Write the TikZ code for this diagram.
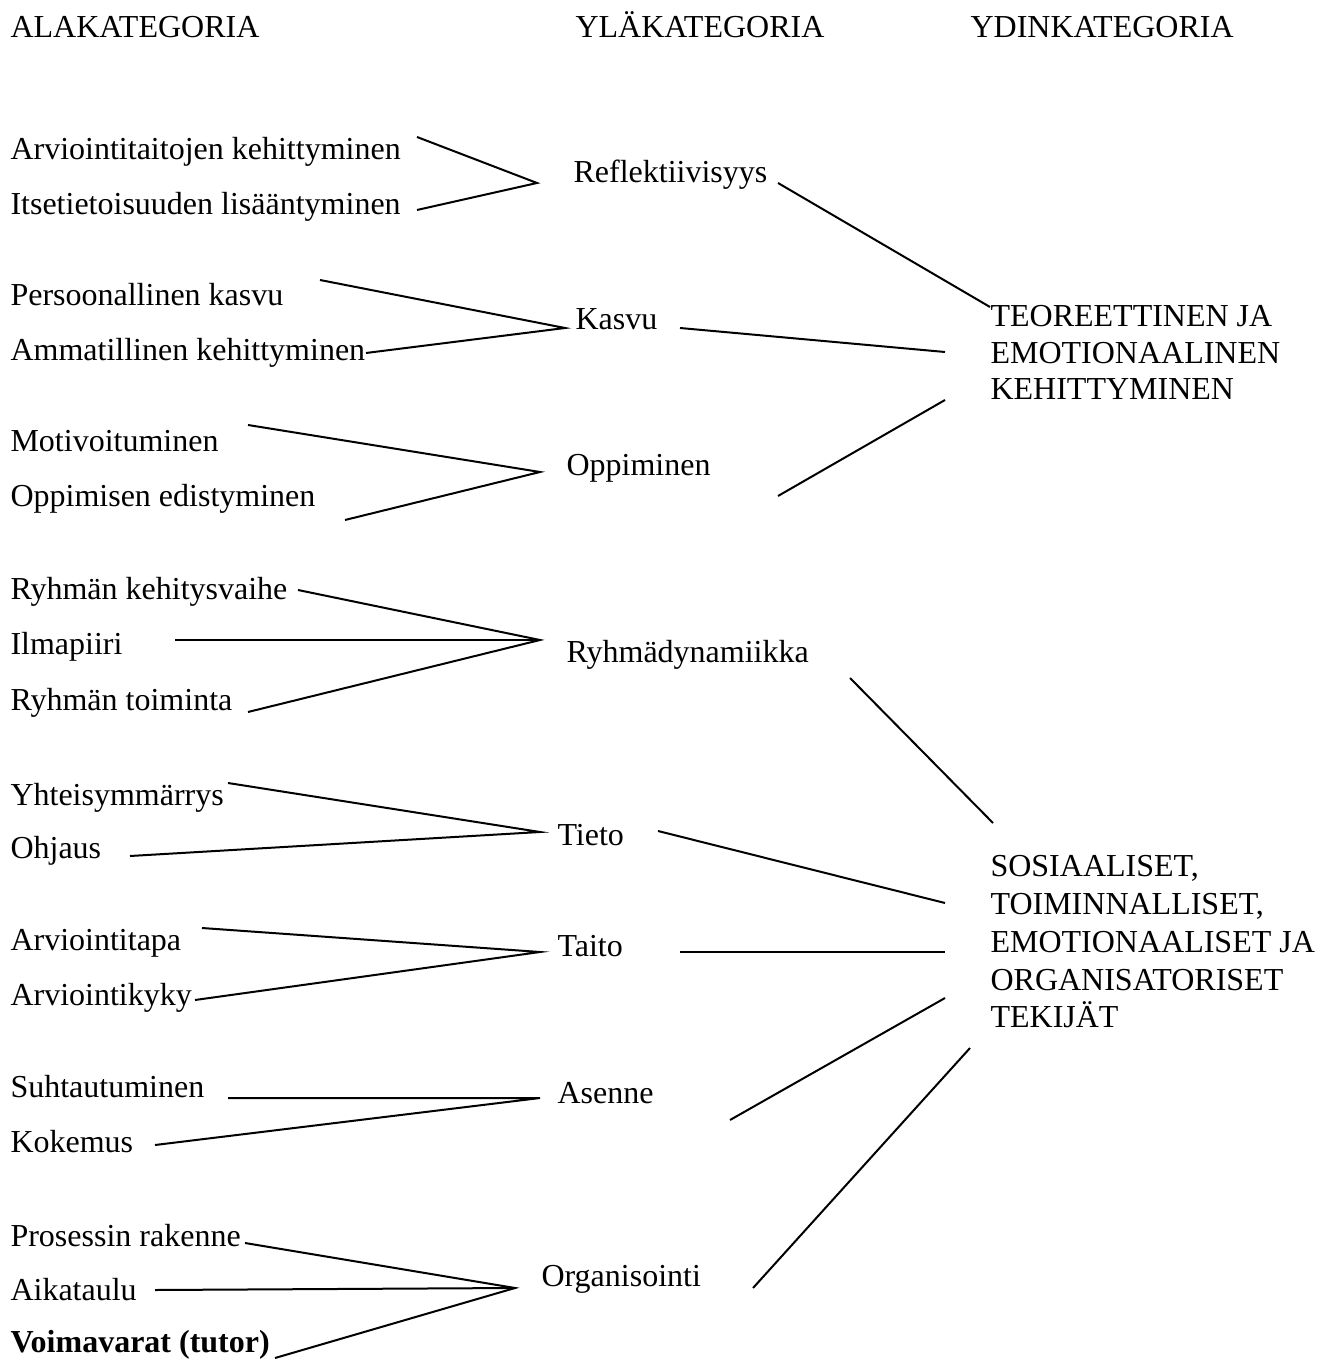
\documentclass[tikz,border=0pt]{standalone}
\usepackage{fontspec}
\setmainfont{Liberation Serif}
\begin{document}
\begin{tikzpicture}[x=0.375pt,y=-0.375pt,
  lbl/.style={anchor=base west,inner sep=0pt,font=\fontsize{12}{14.4}\selectfont},
  core/.style={lbl,align=left,font=\fontsize{12}{14}\selectfont},
  link/.style={draw=black,line width=0.75pt}]
\useasboundingbox (0,0) rectangle (1330,1360);

% column headings
\node[lbl] (hA) at (10,38)  {ALAKATEGORIA};
\node[lbl] (hY) at (575,38) {YLÄKATEGORIA};
\node[lbl] (hD) at (970,38) {YDINKATEGORIA};

% sub-categories
\node[lbl] (a1)  at (10,160)  {Arviointitaitojen kehittyminen};
\node[lbl] (a2)  at (10,215)  {Itsetietoisuuden lisääntyminen};
\node[lbl] (a3)  at (10,306)  {Persoonallinen kasvu};
\node[lbl] (a4)  at (10,361)  {Ammatillinen kehittyminen};
\node[lbl] (a5)  at (10,452)  {Motivoituminen};
\node[lbl] (a6)  at (10,507)  {Oppimisen edistyminen};
\node[lbl] (a7)  at (10,600)  {Ryhmän kehitysvaihe};
\node[lbl] (a8)  at (10,655)  {Ilmapiiri};
\node[lbl] (a9)  at (10,710)  {Ryhmän toiminta};
\node[lbl] (a10) at (10,805)  {Yhteisymmärrys};
\node[lbl] (a11) at (10,858)  {Ohjaus};
\node[lbl] (a12) at (10,950)  {Arviointitapa};
\node[lbl] (a13) at (10,1005) {Arviointikyky};
\node[lbl] (a14) at (10,1097) {Suhtautuminen};
\node[lbl] (a15) at (10,1152) {Kokemus};
\node[lbl] (a16) at (10,1246) {Prosessin rakenne};
\node[lbl] (a17) at (10,1300) {Aikataulu};
\node[lbl,font=\fontsize{12}{14.4}\selectfont\bfseries] (a18) at (10,1352) {Voimavarat (tutor)};

% upper categories
\node[lbl] (y1) at (573,183)  {Reflektiivisyys};
\node[lbl] (y2) at (575,330)  {Kasvu};
\node[lbl] (y3) at (566,476)  {Oppiminen};
\node[lbl] (y4) at (566,662)  {Ryhmädynamiikka};
\node[lbl] (y5) at (557,845)  {Tieto};
\node[lbl] (y6) at (557,956)  {Taito};
\node[lbl] (y7) at (557,1103) {Asenne};
\node[lbl] (y8) at (541,1286) {Organisointi};

% core categories
\node[lbl] (d1a) at (990,327) {TEOREETTINEN JA};
\node[lbl] (d1b) at (990,364) {EMOTIONAALINEN};
\node[lbl] (d1c) at (990,400) {KEHITTYMINEN};
\node[lbl] (d2a) at (990,876)  {SOSIAALISET,};
\node[lbl] (d2b) at (990,914)  {TOIMINNALLISET,};
\node[lbl] (d2c) at (990,952)  {EMOTIONAALISET JA};
\node[lbl] (d2d) at (990,990)  {ORGANISATORISET};
\node[lbl] (d2e) at (990,1027) {TEKIJÄT};

% line end points
\coordinate (a1e)  at (417,137);
\coordinate (a2e)  at (417,210);
\coordinate (y1w)  at (537,183);
\coordinate (a3e)  at (320,280);
\coordinate (a4e)  at (366,353);
\coordinate (y2w)  at (565,328);
\coordinate (a5e)  at (248,425);
\coordinate (a6e)  at (345,520);
\coordinate (y3w)  at (540,472);
\coordinate (a7e)  at (298,590);
\coordinate (a8e)  at (175,640);
\coordinate (a9e)  at (248,712);
\coordinate (y4w)  at (540,640);
\coordinate (a10e) at (228,783);
\coordinate (a11e) at (130,856);
\coordinate (y5w)  at (540,832);
\coordinate (a12e) at (202,928);
\coordinate (a13e) at (195,1000);
\coordinate (y6w)  at (540,952);
\coordinate (a14e) at (228,1098);
\coordinate (a15e) at (155,1145);
\coordinate (y7w)  at (540,1098);
\coordinate (a16e) at (245,1243);
\coordinate (a17e) at (155,1290);
\coordinate (a18e) at (275,1358);
\coordinate (y8w)  at (515,1288);

\coordinate (y1e) at (778,183);
\coordinate (y2e) at (680,328);
\coordinate (y3e) at (778,496);
\coordinate (d1n) at (990,307);
\coordinate (d1w) at (945,352);
\coordinate (d1s) at (945,400);

\coordinate (y4e) at (850,678);
\coordinate (y5e) at (658,831);
\coordinate (y6e) at (680,952);
\coordinate (y7e) at (730,1120);
\coordinate (y8e) at (753,1288);
\coordinate (d2n)  at (993,823);
\coordinate (d2nw) at (945,903);
\coordinate (d2w)  at (945,952);
\coordinate (d2sw) at (945,998);
\coordinate (d2s)  at (970,1048);

% sub-category to upper category
\draw[link] (a1e) -- (y1w) -- (a2e);
\draw[link] (a3e) -- (y2w) -- (a4e);
\draw[link] (a5e) -- (y3w) -- (a6e);
\draw[link] (a7e) -- (y4w) -- (a9e);
\draw[link] (a8e) -- (y4w);
\draw[link] (a10e) -- (y5w) -- (a11e);
\draw[link] (a12e) -- (y6w) -- (a13e);
\draw[link] (a14e) -- (y7w) -- (a15e);
\draw[link] (a16e) -- (y8w) -- (a18e);
\draw[link] (a17e) -- (y8w);

% upper category to core category
\draw[link] (y1e) -- (d1n);
\draw[link] (y2e) -- (d1w);
\draw[link] (y3e) -- (d1s);
\draw[link] (y4e) -- (d2n);
\draw[link] (y5e) -- (d2nw);
\draw[link] (y6e) -- (d2w);
\draw[link] (y7e) -- (d2sw);
\draw[link] (y8e) -- (d2s);
\end{tikzpicture}
\end{document}
